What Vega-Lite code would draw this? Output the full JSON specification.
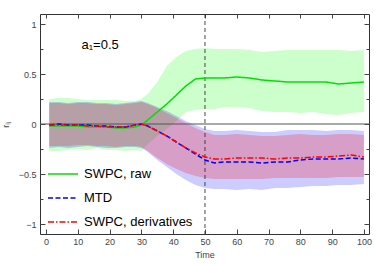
{
  "$schema": "https://vega.github.io/schema/vega-lite/v6.json",
  "autosize": {"type": "none"},
  "width": 329,
  "height": 220,
  "padding": {"left": 40, "top": 14, "right": 5, "bottom": 30},
  "config": {
    "view": {"stroke": "#333", "strokeWidth": 1},
    "font": "Liberation Sans",
    "axis": {"domain": false, "grid": false, "tickColor": "#444", "labelColor": "#444", "labelFontSize": 9, "titleFontSize": 9, "titleFontWeight": "normal", "titleColor": "#444"}
  },
  "data": {"values": [
    {"t":1,"s":"SWPC, raw","m":-0.02,"lo":-0.27,"hi":0.25},
    {"t":4,"s":"SWPC, raw","m":-0.02,"lo":-0.27,"hi":0.26},
    {"t":7,"s":"SWPC, raw","m":-0.02,"lo":-0.26,"hi":0.26},
    {"t":10,"s":"SWPC, raw","m":-0.02,"lo":-0.25,"hi":0.25},
    {"t":13,"s":"SWPC, raw","m":-0.03,"lo":-0.26,"hi":0.24},
    {"t":16,"s":"SWPC, raw","m":-0.03,"lo":-0.24,"hi":0.24},
    {"t":19,"s":"SWPC, raw","m":-0.03,"lo":-0.26,"hi":0.24},
    {"t":22,"s":"SWPC, raw","m":-0.04,"lo":-0.26,"hi":0.24},
    {"t":25,"s":"SWPC, raw","m":-0.04,"lo":-0.27,"hi":0.23},
    {"t":28,"s":"SWPC, raw","m":-0.03,"lo":-0.26,"hi":0.23},
    {"t":30,"s":"SWPC, raw","m":-0.01,"lo":-0.27,"hi":0.25},
    {"t":32,"s":"SWPC, raw","m":0.04,"lo":-0.2,"hi":0.3},
    {"t":35,"s":"SWPC, raw","m":0.12,"lo":-0.12,"hi":0.42},
    {"t":38,"s":"SWPC, raw","m":0.2,"lo":-0.05,"hi":0.58},
    {"t":41,"s":"SWPC, raw","m":0.29,"lo":0.03,"hi":0.67},
    {"t":44,"s":"SWPC, raw","m":0.38,"lo":0.12,"hi":0.73},
    {"t":47,"s":"SWPC, raw","m":0.45,"lo":0.14,"hi":0.75},
    {"t":50,"s":"SWPC, raw","m":0.46,"lo":0.15,"hi":0.76},
    {"t":53,"s":"SWPC, raw","m":0.46,"lo":0.15,"hi":0.75},
    {"t":56,"s":"SWPC, raw","m":0.46,"lo":0.17,"hi":0.75},
    {"t":60,"s":"SWPC, raw","m":0.47,"lo":0.17,"hi":0.75},
    {"t":64,"s":"SWPC, raw","m":0.46,"lo":0.16,"hi":0.74},
    {"t":68,"s":"SWPC, raw","m":0.44,"lo":0.13,"hi":0.72},
    {"t":72,"s":"SWPC, raw","m":0.43,"lo":0.12,"hi":0.73},
    {"t":76,"s":"SWPC, raw","m":0.42,"lo":0.12,"hi":0.74},
    {"t":80,"s":"SWPC, raw","m":0.42,"lo":0.11,"hi":0.74},
    {"t":84,"s":"SWPC, raw","m":0.42,"lo":0.12,"hi":0.74},
    {"t":88,"s":"SWPC, raw","m":0.42,"lo":0.1,"hi":0.74},
    {"t":92,"s":"SWPC, raw","m":0.4,"lo":0.09,"hi":0.74},
    {"t":96,"s":"SWPC, raw","m":0.41,"lo":0.11,"hi":0.73},
    {"t":100,"s":"SWPC, raw","m":0.42,"lo":0.12,"hi":0.74},
    {"t":1,"s":"MTD","m":-0.01,"lo":-0.24,"hi":0.22},
    {"t":4,"s":"MTD","m":0.0,"lo":-0.23,"hi":0.22},
    {"t":7,"s":"MTD","m":-0.01,"lo":-0.24,"hi":0.21},
    {"t":10,"s":"MTD","m":-0.01,"lo":-0.23,"hi":0.22},
    {"t":13,"s":"MTD","m":-0.01,"lo":-0.22,"hi":0.22},
    {"t":16,"s":"MTD","m":-0.02,"lo":-0.23,"hi":0.21},
    {"t":19,"s":"MTD","m":-0.02,"lo":-0.24,"hi":0.21},
    {"t":22,"s":"MTD","m":-0.03,"lo":-0.24,"hi":0.2},
    {"t":25,"s":"MTD","m":-0.03,"lo":-0.23,"hi":0.21},
    {"t":28,"s":"MTD","m":-0.01,"lo":-0.23,"hi":0.22},
    {"t":30,"s":"MTD","m":0.0,"lo":-0.24,"hi":0.23},
    {"t":32,"s":"MTD","m":-0.02,"lo":-0.28,"hi":0.21},
    {"t":35,"s":"MTD","m":-0.07,"lo":-0.36,"hi":0.17},
    {"t":38,"s":"MTD","m":-0.12,"lo":-0.43,"hi":0.13},
    {"t":41,"s":"MTD","m":-0.18,"lo":-0.5,"hi":0.08},
    {"t":44,"s":"MTD","m":-0.24,"lo":-0.56,"hi":0.03},
    {"t":47,"s":"MTD","m":-0.3,"lo":-0.61,"hi":-0.01},
    {"t":50,"s":"MTD","m":-0.36,"lo":-0.64,"hi":-0.05},
    {"t":53,"s":"MTD","m":-0.39,"lo":-0.65,"hi":-0.07},
    {"t":56,"s":"MTD","m":-0.38,"lo":-0.65,"hi":-0.07},
    {"t":60,"s":"MTD","m":-0.38,"lo":-0.66,"hi":-0.06},
    {"t":64,"s":"MTD","m":-0.38,"lo":-0.65,"hi":-0.07},
    {"t":68,"s":"MTD","m":-0.39,"lo":-0.66,"hi":-0.08},
    {"t":72,"s":"MTD","m":-0.38,"lo":-0.64,"hi":-0.08},
    {"t":76,"s":"MTD","m":-0.38,"lo":-0.64,"hi":-0.06},
    {"t":80,"s":"MTD","m":-0.36,"lo":-0.63,"hi":-0.06},
    {"t":84,"s":"MTD","m":-0.35,"lo":-0.62,"hi":-0.06},
    {"t":88,"s":"MTD","m":-0.35,"lo":-0.62,"hi":-0.07},
    {"t":92,"s":"MTD","m":-0.35,"lo":-0.61,"hi":-0.06},
    {"t":96,"s":"MTD","m":-0.34,"lo":-0.61,"hi":-0.06},
    {"t":100,"s":"MTD","m":-0.35,"lo":-0.6,"hi":-0.07},
    {"t":1,"s":"SWPC, derivatives","m":-0.01,"lo":-0.22,"hi":0.21},
    {"t":4,"s":"SWPC, derivatives","m":-0.01,"lo":-0.22,"hi":0.21},
    {"t":7,"s":"SWPC, derivatives","m":-0.01,"lo":-0.22,"hi":0.2},
    {"t":10,"s":"SWPC, derivatives","m":-0.01,"lo":-0.21,"hi":0.21},
    {"t":13,"s":"SWPC, derivatives","m":-0.02,"lo":-0.21,"hi":0.21},
    {"t":16,"s":"SWPC, derivatives","m":-0.02,"lo":-0.22,"hi":0.2},
    {"t":19,"s":"SWPC, derivatives","m":-0.03,"lo":-0.22,"hi":0.2},
    {"t":22,"s":"SWPC, derivatives","m":-0.03,"lo":-0.23,"hi":0.19},
    {"t":25,"s":"SWPC, derivatives","m":-0.03,"lo":-0.22,"hi":0.2},
    {"t":28,"s":"SWPC, derivatives","m":-0.01,"lo":-0.22,"hi":0.21},
    {"t":30,"s":"SWPC, derivatives","m":0.0,"lo":-0.23,"hi":0.22},
    {"t":32,"s":"SWPC, derivatives","m":-0.02,"lo":-0.27,"hi":0.2},
    {"t":35,"s":"SWPC, derivatives","m":-0.07,"lo":-0.34,"hi":0.16},
    {"t":38,"s":"SWPC, derivatives","m":-0.12,"lo":-0.4,"hi":0.11},
    {"t":41,"s":"SWPC, derivatives","m":-0.18,"lo":-0.45,"hi":0.06},
    {"t":44,"s":"SWPC, derivatives","m":-0.24,"lo":-0.49,"hi":0.01},
    {"t":47,"s":"SWPC, derivatives","m":-0.29,"lo":-0.52,"hi":-0.04},
    {"t":50,"s":"SWPC, derivatives","m":-0.33,"lo":-0.54,"hi":-0.08},
    {"t":53,"s":"SWPC, derivatives","m":-0.35,"lo":-0.55,"hi":-0.11},
    {"t":56,"s":"SWPC, derivatives","m":-0.35,"lo":-0.55,"hi":-0.11},
    {"t":60,"s":"SWPC, derivatives","m":-0.34,"lo":-0.55,"hi":-0.1},
    {"t":64,"s":"SWPC, derivatives","m":-0.34,"lo":-0.55,"hi":-0.11},
    {"t":68,"s":"SWPC, derivatives","m":-0.34,"lo":-0.55,"hi":-0.12},
    {"t":72,"s":"SWPC, derivatives","m":-0.35,"lo":-0.54,"hi":-0.12},
    {"t":76,"s":"SWPC, derivatives","m":-0.34,"lo":-0.54,"hi":-0.11},
    {"t":80,"s":"SWPC, derivatives","m":-0.34,"lo":-0.54,"hi":-0.1},
    {"t":84,"s":"SWPC, derivatives","m":-0.33,"lo":-0.54,"hi":-0.11},
    {"t":88,"s":"SWPC, derivatives","m":-0.33,"lo":-0.54,"hi":-0.11},
    {"t":92,"s":"SWPC, derivatives","m":-0.32,"lo":-0.53,"hi":-0.1},
    {"t":96,"s":"SWPC, derivatives","m":-0.31,"lo":-0.53,"hi":-0.1},
    {"t":100,"s":"SWPC, derivatives","m":-0.33,"lo":-0.53,"hi":-0.11}
  ]},
  "resolve": {"axis": {"x": "independent", "y": "independent"}},
  "layer": [
    {
      "transform": [{"filter": "datum.s === 'SWPC, raw'"}],
      "mark": {"type": "area", "fill": "#00ff00", "fillOpacity": 0.2},
      "encoding": {
        "x": {"field": "t", "type": "quantitative", "scale": {"domain": [-1.9, 101.6], "nice": false, "zero": false},
              "axis": {"orient": "bottom", "values": [0,10,20,30,40,50,60,70,80,90,100], "tickSize": -5, "labelPadding": 8, "title": "Time", "titlePadding": 4}},
        "y": {"field": "lo", "type": "quantitative", "scale": {"domain": [-1.1, 1.1], "nice": false, "zero": false},
              "axis": {"orient": "left", "values": [-1,-0.5,0,0.5,1], "tickSize": -5, "labelPadding": 9, "title": "rᵢⱼ", "titlePadding": 8,
                       "labelExpr": "datum.value < 0 ? '−' + (-datum.value) : '' + datum.value"}},
        "y2": {"field": "hi"}
      }
    },
    {
      "transform": [{"filter": "datum.s === 'MTD'"}],
      "mark": {"type": "area", "fill": "#0000ff", "fillOpacity": 0.2},
      "encoding": {
        "x": {"field": "t", "type": "quantitative", "axis": {"orient": "top", "values": [0,10,20,30,40,50,60,70,80,90,100], "tickSize": -4, "labels": false, "title": null}},
        "y": {"field": "lo", "type": "quantitative", "axis": {"orient": "right", "values": [-1,-0.5,0,0.5,1], "tickSize": -5, "labels": false, "title": null}},
        "y2": {"field": "hi"}
      }
    },
    {
      "transform": [{"filter": "datum.s === 'SWPC, derivatives'"}],
      "mark": {"type": "area", "fill": "#ff0000", "fillOpacity": 0.22},
      "encoding": {
        "x": {"field": "t", "type": "quantitative", "axis": null},
        "y": {"field": "lo", "type": "quantitative", "axis": {"orient": "left", "values": [-0.75,-0.25,0.25,0.75], "tickSize": -3, "labels": false, "title": null}},
        "y2": {"field": "hi"}
      }
    },
    {
      "data": {"values": [{}]},
      "mark": {"type": "rule", "color": "#555", "strokeWidth": 1.2},
      "encoding": {"y": {"datum": 0, "axis": null}}
    },
    {
      "data": {"values": [{}]},
      "mark": {"type": "rule", "color": "#333", "strokeWidth": 0.9, "strokeDash": [4, 3]},
      "encoding": {"x": {"datum": 50, "axis": null}}
    },
    {
      "mark": {"type": "line", "strokeWidth": 1.5},
      "encoding": {
        "x": {"field": "t", "type": "quantitative", "axis": null},
        "y": {"field": "m", "type": "quantitative", "axis": {"orient": "right", "values": [-0.75,-0.25,0.25,0.75], "tickSize": -3, "labels": false, "title": null}},
        "color": {"field": "s", "type": "nominal", "scale": {"domain": ["SWPC, raw", "MTD", "SWPC, derivatives"], "range": ["#00e000", "#0000ff", "#ff0000"]},
                  "legend": {"title": null, "orient": "none", "legendX": 7, "legendY": 144, "symbolType": "stroke", "symbolSize": 900, "symbolStrokeWidth": 1.6, "labelFontSize": 13, "labelColor": "#000", "labelFont": "Liberation Sans", "rowPadding": 1, "labelOffset": 5}},
        "strokeDash": {"field": "s", "type": "nominal", "scale": {"domain": ["SWPC, raw", "MTD", "SWPC, derivatives"], "range": [[1, 0], [5, 2.5], [6, 2, 1.5, 2]]}},
        "order": {"field": "t", "type": "quantitative"}
      }
    },
    {
      "data": {"values": [{}]},
      "mark": {"type": "text", "fontSize": 13, "font": "Liberation Sans", "color": "#000"},
      "encoding": {"x": {"datum": 17, "axis": null}, "y": {"datum": 0.79, "axis": null}, "text": {"value": "a₁=0.5"}}
    }
  ]
}
